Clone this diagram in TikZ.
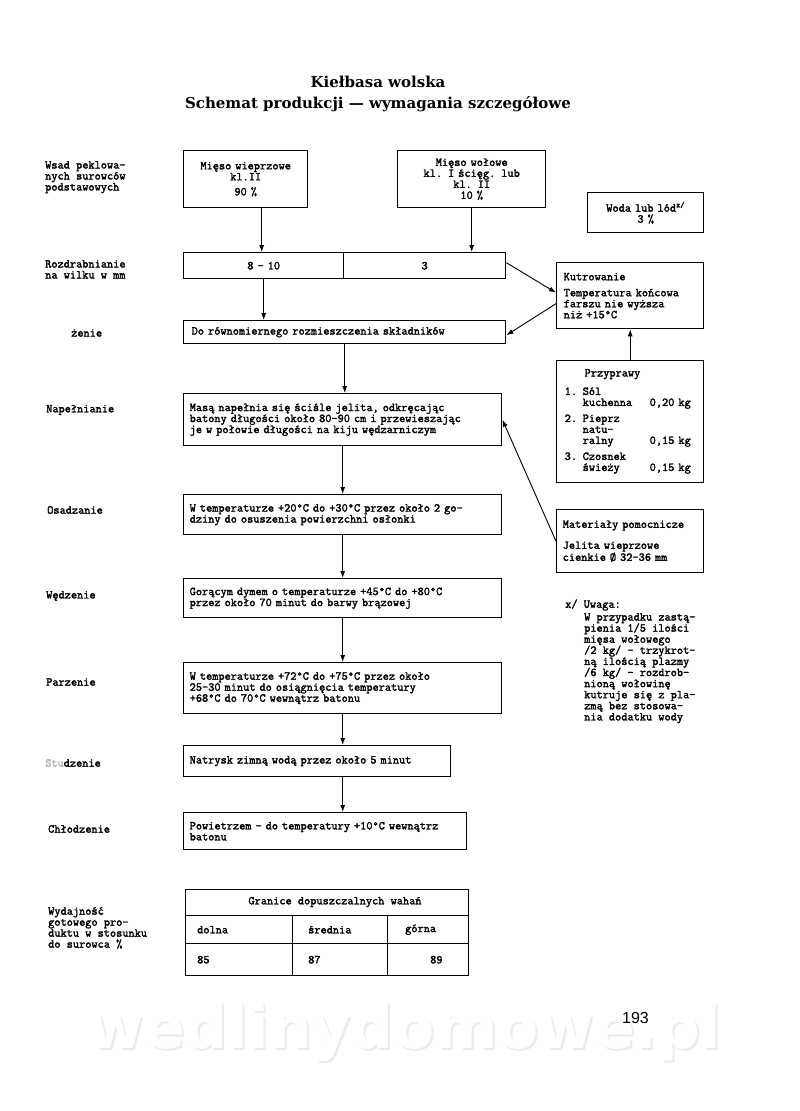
\documentclass[tikz,border=0pt]{standalone}
\usepackage{fontspec}
\setmainfont{DejaVu Serif}
\newfontfamily\twfont{Latin Modern Mono}[FakeBold=2]
\newfontfamily\numfont{Liberation Sans}
\newfontfamily\wmfont{DejaVu Sans}
\usetikzlibrary{arrows.meta}
\tikzset{
  tw/.style={font=\twfont\bfseries\fontsize{12}{11}\selectfont},
  pbox/.style={tw, draw, line width=1.4pt, anchor=north west, inner xsep=8pt, inner ysep=0pt, align=left},
  cell/.style={draw, line width=1.4pt, anchor=north west, inner sep=0pt},
  lbl/.style={tw, inner sep=0pt, align=left},
  arr/.style={-{Latex[length=7pt,width=5pt]}, line width=0.9pt},
  ttl/.style={font=\bfseries\fontsize{15}{17}\selectfont, inner sep=0pt},
}
\begin{document}
\begin{tikzpicture}[x=1pt,y=-1pt]
\useasboundingbox (0,0) rectangle (800,1111);
\fill[white] (0,0) rectangle (800,1111);

% watermark and page number
\node[font=\wmfont\bfseries\fontsize{60}{60}\selectfont, text=black!8, inner sep=0pt] (wms) at (407,1034) {wedlinydomowe.pl};
\node[font=\wmfont\bfseries\fontsize{60}{60}\selectfont, text=white, inner sep=0pt] (wm) at (405,1032) {wedlinydomowe.pl};
\node[font=\numfont\fontsize{16}{16}\selectfont, anchor=west, inner sep=0pt] (pg) at (622,1018) {193};

% titles
\node[ttl] (t1) at (378,82) {Kiełbasa wolska};
\node[ttl] (t2) at (378,104) {Schemat produkcji — wymagania szczegółowe};

% left labels
\node[lbl, anchor=north west] (l1) at (45,161) {Wsad peklowa-\\nych surowców\\podstawowych};
\node[lbl, anchor=north west] (l2) at (45,260) {Rozdrabnianie\\na wilku w mm};
\node[lbl, anchor=west] (l3) at (71,333) {żenie};
\node[lbl, anchor=west] (l4) at (46,410) {Napełnianie};
\node[lbl, anchor=west] (l5) at (47,510) {Osadzanie};
\node[lbl, anchor=west] (l6) at (46,596) {Wędzenie};
\node[lbl, anchor=west] (l7) at (46,682) {Parzenie};
\node[lbl, anchor=west] (l8) at (45,763) {\textcolor{black!30}{Stu}dzenie};
\node[lbl, anchor=west] (l9) at (48,829) {Chłodzenie};
\node[lbl, anchor=north west] (l10) at (48,907) {Wydajność\\gotowego pro-\\duktu w stosunku\\do surowca \%};

% raw materials
\node[pbox, align=center, minimum height=57pt, text width=108pt] (wiep) at (183,150)
  {Mięso wieprzowe\\kl.II\\[4pt]90 \%};
\node[pbox, align=center, minimum height=57pt, text width=132pt] (wol) at (397,150)
  {Mięso wołowe\\kl. I ścięg. lub\\kl. II\\10 \%};
\node[pbox, align=center, minimum height=40pt, text width=100pt] (woda) at (587,192)
  {Woda lub lód\textsuperscript{x/}\\3 \%};

% grinding split box
\node[pbox, align=center, minimum height=26pt, text width=144pt] (s1) at (183,252) {8 - 10};
\node[pbox, align=center, minimum height=26pt, text width=146pt] (s2) at (343,252) {3};

% right column
\node[pbox, minimum height=66pt, text width=133pt, inner xsep=7pt] (kutr) at (556,262)
  {Kutrowanie\\[5pt]Temperatura końcowa\\farszu nie wyższa\\niż +15°C};
\node[pbox, minimum height=122pt, text width=131pt] (przyp) at (556,360)
  {\hspace*{20pt}Przyprawy\\[7pt]%
   \begin{tabular}{@{}p{18pt}@{}p{67pt}@{}l@{}}
   1. & Sól & \\
      & kuchenna & 0,20 kg\\[5pt]
   2. & Pieprz & \\
      & natu- & \\
      & ralny & 0,15 kg\\[5pt]
   3. & Czosnek & \\
      & świeży & 0,15 kg
   \end{tabular}};
\node[pbox, minimum height=63pt, text width=135pt, inner xsep=6pt] (mat) at (556,509)
  {Materiały pomocnicze\\[10pt]Jelita wieprzowe\\cienkie Ø 32-36 mm};

% main chain
\node[pbox, minimum height=23pt, text width=306pt] (mix) at (183,320)
  {Do równomiernego rozmieszczenia składników};
\node[pbox, minimum height=52pt, text width=306pt, inner xsep=6pt] (masa) at (183,393)
  {Masą napełnia się ściśle jelita, odkręcając\\batony długości około 80-90 cm i przewieszając\\je w połowie długości na kiju wędzarniczym};
\node[pbox, minimum height=40pt, text width=306pt, inner xsep=6pt] (osad) at (183,494)
  {W temperaturze +20°C do +30°C przez około 2 go-\\dziny do osuszenia powierzchni osłonki};
\node[pbox, minimum height=39pt, text width=306pt, inner xsep=6pt] (wedz) at (183,578)
  {Gorącym dymem o temperaturze +45°C do +80°C\\przez około 70 minut do barwy brązowej};
\node[pbox, minimum height=51pt, text width=306pt, inner xsep=6pt] (parz) at (183,662)
  {W temperaturze +72°C do +75°C przez około\\25-30 minut do osiągnięcia temperatury\\+68°C do 70°C wewnątrz batonu};
\node[pbox, minimum height=31pt, text width=255pt, inner xsep=6pt] (stud) at (183,745)
  {Natrysk zimną wodą przez około 5 minut};
\node[pbox, minimum height=37pt, text width=271pt, inner xsep=6pt] (chl) at (183,812)
  {Powietrzem - do temperatury +10°C wewnątrz\\batonu};

% note
\node[lbl, anchor=west] (uw) at (565,605) {x/ Uwaga:};
\node[lbl, anchor=north west, font=\twfont\bfseries\fontsize{12}{11.1}\selectfont] (uwt) at (584,613)
  {W przypadku zastą-\\pienia 1/5 ilości\\mięsa wołowego\\/2 kg/ - trzykrot-\\ną ilością plazmy\\/6 kg/ - rozdrob-\\nioną wołowinę\\kutruje się z pla-\\zmą bez stosowa-\\nia dodatku wody};

% table
\node[cell, minimum width=283pt, minimum height=26pt] (th) at (185,889) {};
\node[cell, minimum width=107pt, minimum height=28pt] (c11) at (185,915) {};
\node[cell, minimum width=95pt, minimum height=28pt] (c12) at (292,915) {};
\node[cell, minimum width=81pt, minimum height=28pt] (c13) at (387,915) {};
\node[cell, minimum width=107pt, minimum height=32pt] (c21) at (185,943) {};
\node[cell, minimum width=95pt, minimum height=32pt] (c22) at (292,943) {};
\node[cell, minimum width=81pt, minimum height=32pt] (c23) at (387,943) {};
\node[lbl] (tht) at (335,902) {Granice dopuszczalnych wahań};
\node[lbl, anchor=west] (t11) at ([xshift=12pt]c11.west) {dolna};
\node[lbl, anchor=west] (t12) at ([xshift=16pt]c12.west) {średnia};
\node[lbl, anchor=west] (t13) at ([xshift=18pt]c13.west) {górna};
\node[lbl, anchor=west] (t21) at ([xshift=12pt]c21.west) {85};
\node[lbl, anchor=west] (t22) at ([xshift=16pt]c22.west) {87};
\node[lbl, anchor=west] (t23) at ([xshift=43pt]c23.west) {89};

% connectors
\draw[arr] ([xshift=16pt]wiep.south) -- ([xshift=16pt]wiep.south |- s1.north);
\draw[arr] (wol.south) -- (wol.south |- s2.north);
\draw[arr] (s1.south) -- (s1.south |- mix.north);
\draw[arr] ([yshift=3pt]s2.east) -- ([yshift=3pt]kutr.west);
\draw[arr] ([yshift=-8pt]kutr.west) -- ([yshift=-3pt]mix.east);
\draw[arr] (przyp.north) -- (kutr.south);
\draw[arr] (mix.south) -- (mix.south |- masa.north);
\draw[arr] (mat.west) -- (masa.east);
\draw[arr] (masa.south) -- (masa.south |- osad.north);
\draw[arr] (osad.south) -- (osad.south |- wedz.north);
\draw[arr] (wedz.south) -- (wedz.south |- parz.north);
\draw[arr] (parz.south) -- (parz.south |- stud.north);
\draw[arr] (parz.south |- stud.south) -- (parz.south |- chl.north);
\end{tikzpicture}
\end{document}
